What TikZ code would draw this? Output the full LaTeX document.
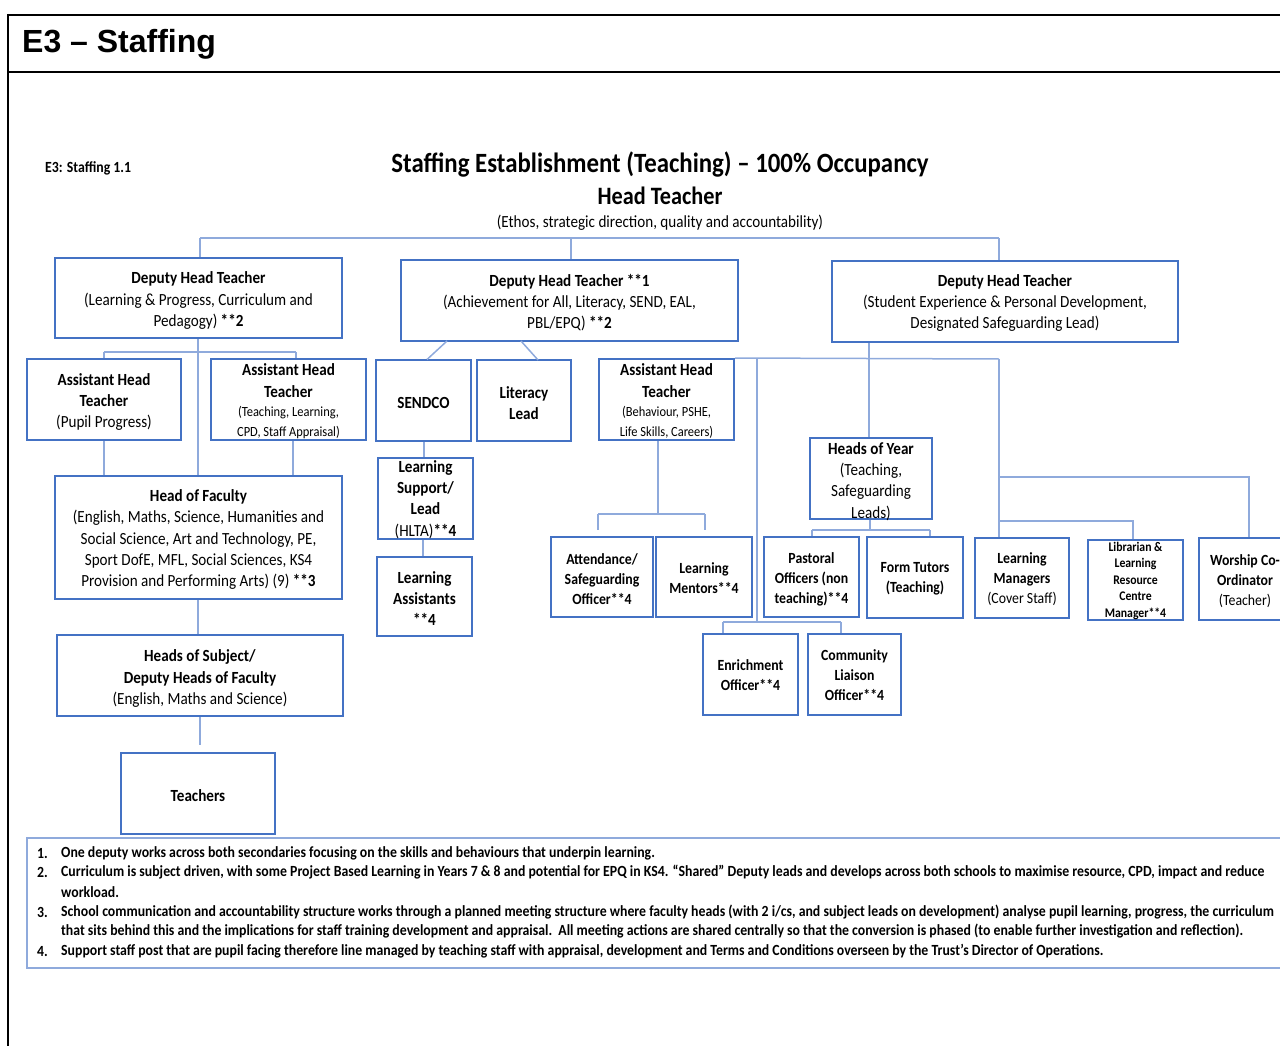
\documentclass[tikz,border=0pt]{standalone}
\usepackage{fontspec}
\setmainfont{Carlito}[FakeStretch=0.89]
\newfontfamily\hdfont{Liberation Sans}
\usetikzlibrary{calc}
\definecolor{boxblue}{HTML}{4472C4}
\definecolor{lineblue}{HTML}{8FAADC}
\newcommand\fsz[2]{\fontsize{#1}{#2}\selectfont}
\newcommand\obox[5]{\node[orgbox, minimum width={#4pt-#2pt}, minimum height={#5pt-#3pt}] (#1) at ({(#2+#4)/2},{(#3+#5)/2}) {};}
\tikzset{
  orgbox/.style={draw=boxblue, line width=2pt, inner sep=0pt},
  conn/.style={draw=lineblue, line width=1.5pt},
  lbl/.style={inner sep=0pt, align=center},
  big/.style={lbl, font=\fsz{17}{21.3}, yshift=-1.5pt},
  med/.style={lbl, font=\fsz{15.5}{20}\bfseries, yshift=-1pt},
  note/.style={inner sep=0pt, anchor=west, font=\fsz{15.5}{19}\bfseries, yshift=-0.5pt},
  frame/.style={draw=black, line width=2.5pt},
}
\begin{document}
\begin{tikzpicture}[x=1pt,y=-1pt]
\useasboundingbox (0,0) rectangle (1280,1046);
\clip (0,0) rectangle (1280,1046);
% page frame
\draw[frame] (8,15) -- (1282,15);
\draw[frame] (8,72) -- (1282,72);
\draw[frame] (8,13.8) -- (8,1048);
\node[inner sep=0pt, anchor=west, font=\hdfont\bfseries\fsz{32}{34}] (hdr) at (22,44.5) {E3 – Staffing};

% titles
\node[lbl, anchor=west, font=\fsz{15.5}{17}\bfseries] (ref) at (45,168) {E3: Staffing 1.1};
\node[lbl, font=\fsz{27.9}{31}\bfseries] (title) at (660,164.5) {Staffing Establishment (Teaching) – 100\% Occupancy};
\node[lbl, font=\fsz{25}{27}\bfseries] (head) at (660,196) {Head Teacher};
\node[lbl, font=\fsz{17}{20}] (ethos) at (660,222.5) {(Ethos, strategic direction, quality and accountability)};

% boxes
\obox{dht1}{55}{258}{342}{338}
\obox{dht2}{401}{260}{738}{341}
\obox{dht3}{832}{261}{1178}{342}
\obox{aht1}{27}{359}{181}{440}
\obox{aht2}{211}{359}{366}{440}
\obox{sendco}{376}{360}{471}{441}
\obox{lit}{477}{360}{571}{441}
\obox{aht3}{599}{359}{734}{440}
\obox{ls}{378}{458}{473}{539}
\obox{la}{377}{557}{472}{636}
\obox{hof}{55}{476}{342}{599}
\obox{hos}{57}{635}{343}{716}
\obox{teach}{121}{753}{275}{834}
\obox{hoy}{810}{438}{932}{519}
\obox{att}{551}{537}{653}{617}
\obox{lm}{656}{537}{752}{617}
\obox{past}{764}{537}{859}{617}
\obox{ft}{867}{537}{963}{618}
\obox{lman}{975}{538}{1069}{618}
\obox{lib}{1088}{540}{1183}{620}
\obox{wor}{1199}{538}{1295}{620}
\obox{enr}{703}{634}{798}{715}
\obox{com}{808}{634}{901}{715}

% box texts
\node[big] (dht1t) at (198.5,299) {\textbf{Deputy Head Teacher}\\(Learning \& Progress, Curriculum and\\Pedagogy) \textbf{**2}};
\node[big] (dht2t) at (569.5,301) {\textbf{Deputy Head Teacher **1}\\(Achievement for All, Literacy, SEND, EAL,\\PBL/EPQ) \textbf{**2}};
\node[big] (dht3t) at (1005,301.5) {\textbf{Deputy Head Teacher}\\(Student Experience \& Personal Development,\\Designated Safeguarding Lead)};
\node[big] (aht1t) at (104,400.5) {\textbf{Assistant Head}\\\textbf{Teacher}\\(Pupil Progress)};
\node[lbl, font=\fsz{17}{21.5}\bfseries] (aht2t) at (288.5,401) {Assistant Head\\Teacher\\[-2pt]\fsz{14}{19}\mdseries (Teaching, Learning,\\[-2pt]\fsz{14}{19}\mdseries CPD, Staff Appraisal)};
\node[big, font=\fsz{17}{21}\bfseries] (sendcot) at (423.5,401) {SENDCO};
\node[big, font=\fsz{17}{21}\bfseries] (litt) at (524,401.5) {Literacy\\Lead};
\node[lbl, font=\fsz{17}{21.5}\bfseries] (aht3t) at (666.5,401) {Assistant Head\\Teacher\\[-2pt]\fsz{14}{19}\mdseries (Behaviour, PSHE,\\[-2pt]\fsz{14}{19}\mdseries Life Skills, Careers)};
\node[big] (lst) at (425.5,498) {\textbf{Learning}\\\textbf{Support/}\\\textbf{Lead}\\(HLTA)\textbf{**4}};
\node[big, font=\fsz{17}{21}\bfseries] (lat) at (424.5,597) {Learning\\Assistants\\**4};
\node[big] (hoft) at (198.5,538) {\textbf{Head of Faculty}\\(English, Maths, Science, Humanities and\\Social Science, Art and Technology, PE,\\Sport DofE, MFL, Social Sciences, KS4\\Provision and Performing Arts) (9) \textbf{**3}};
\node[big] (host) at (200,677) {\textbf{Heads of Subject/}\\\textbf{Deputy Heads of Faculty}\\(English, Maths and Science)};
\node[big, font=\fsz{17}{21}\bfseries] (teacht) at (198,794) {Teachers};
\node[big] (hoyt) at (871,480) {\textbf{Heads of Year}\\(Teaching,\\Safeguarding\\Leads)};
\node[med] (attt) at (602,578) {Attendance/\\Safeguarding\\Officer**4};
\node[med] (lmt) at (704,577.5) {Learning\\Mentors**4};
\node[med] (pastt) at (811.5,578) {Pastoral\\Officers (non\\teaching)**4};
\node[med] (ftt) at (915,577.5) {Form Tutors\\(Teaching)};
\node[med] (lmant) at (1022,578) {Learning\\Managers\\\mdseries (Cover Staff)};
\node[lbl, font=\fsz{13.2}{16.5}\bfseries] (libt) at (1135.5,580.5) {Librarian \&\\Learning\\Resource\\Centre\\Manager**4};
\node[med] (wort) at (1245,580) {Worship Co-\\Ordinator\\\mdseries (Teacher)};
\node[med] (enrt) at (750.5,674) {Enrichment\\Officer**4};
\node[med] (comt) at (854.5,674.5) {Community\\Liaison\\Officer**4};

% connectors
\coordinate (hbarL) at (200,238);
\coordinate (hbarM) at (571,238);
\coordinate (hbarR) at (999,238);
\draw[conn] (hbarL) -- (hbarR);
\draw[conn] (hbarL) -- (hbarL |- dht1.north);
\draw[conn] (hbarM) -- (hbarM |- dht2.north);
\draw[conn] (hbarR) -- (hbarR |- dht3.north);

\draw[conn] (dht1.south -| 198,0) -- (hof.north -| 198,0);
\coordinate (ahbL) at (104,352);
\coordinate (ahbR) at (296,352);
\draw[conn] (ahbL) -- (ahbR);
\draw[conn] (ahbL) -- (ahbL |- aht1.north);
\draw[conn] (ahbR) -- (ahbR |- aht2.north);
\draw[conn] (aht1.south -| 104,0) -- (hof.north -| 104,0);
\draw[conn] (aht2.south -| 293,0) -- (hof.north -| 293,0);
\draw[conn] (hof.south -| 198,0) -- (hos.north -| 198,0);
\coordinate (teachEnd) at (200,745);
\draw[conn] (hos.south -| 200,0) -- (teachEnd);

\draw[conn] (447,341) -- (427,359.5);
\draw[conn] (521,341) -- (538,360);
\draw[conn] (sendco.south -| 424,0) -- (ls.north -| 424,0);
\draw[conn] (ls.south -| 423,0) -- (la.north -| 423,0);

\coordinate (a3b) at (658,514);
\draw[conn] (aht3.south -| a3b) -- (a3b);
\draw[conn] (598,514) -- (705,514);
\draw[conn] (598,514) -- (598,530);
\draw[conn] (705,514) -- (705,530);

\coordinate (rbarR) at (999,359);
\draw[conn] (aht3.north east) -- (rbarR);
\draw[conn] (757,359) -- (757,622);
\draw[conn] (723,622) -- (841,622);
\draw[conn] (723,622) -- (enr.north -| 723,0);
\draw[conn] (841,622) -- (com.north -| 841,0);

\draw[conn] (dht3.south -| 869,0) -- (hoy.north -| 869,0);
\draw[conn] (hoy.south -| 870,0) -- (870,530);
\draw[conn] (812,530) -- (930,530);
\draw[conn] (812,530) -- (past.north -| 812,0);
\draw[conn] (930,530) -- (ft.north -| 930,0);

\draw[conn] (rbarR) -- (lman.north -| rbarR);
\draw[conn] (999,477) -- (1249,477) -- (wor.north -| 1249,0);
\draw[conn] (999,521) -- (1133,521) -- (lib.north -| 1133,0);

% notes
\draw[draw=lineblue, line width=2pt] (27,838) rectangle (1295,968);
\node[note] (n1) at (37,853) {1.};
\node[note] (n1t) at (61,853) {One deputy works across both secondaries focusing on the skills and behaviours that underpin learning.};
\node[note] (n2) at (37,872) {2.};
\node[note] (n2t) at (61,872) {Curriculum is subject driven, with some Project Based Learning in Years 7 \& 8 and potential for EPQ in KS4. “Shared” Deputy leads and develops across both schools to maximise resource, CPD, impact and reduce};
\node[note] (n2u) at (61,892) {workload.};
\node[note] (n3) at (37,912) {3.};
\node[note] (n3t) at (61,912) {School communication and accountability structure works through a planned meeting structure where faculty heads (with 2 i/cs, and subject leads on development) analyse pupil learning, progress, the curriculum};
\node[note] (n3u) at (61,931) {that sits behind this and the implications for staff training development and appraisal.\ \ All meeting actions are shared centrally so that the conversion is phased (to enable further investigation and reflection).};
\node[note] (n4) at (37,951) {4.};
\node[note] (n4t) at (61,951) {Support staff post that are pupil facing therefore line managed by teaching staff with appraisal, development and Terms and Conditions overseen by the Trust’s Director of Operations.};
\end{tikzpicture}
\end{document}
